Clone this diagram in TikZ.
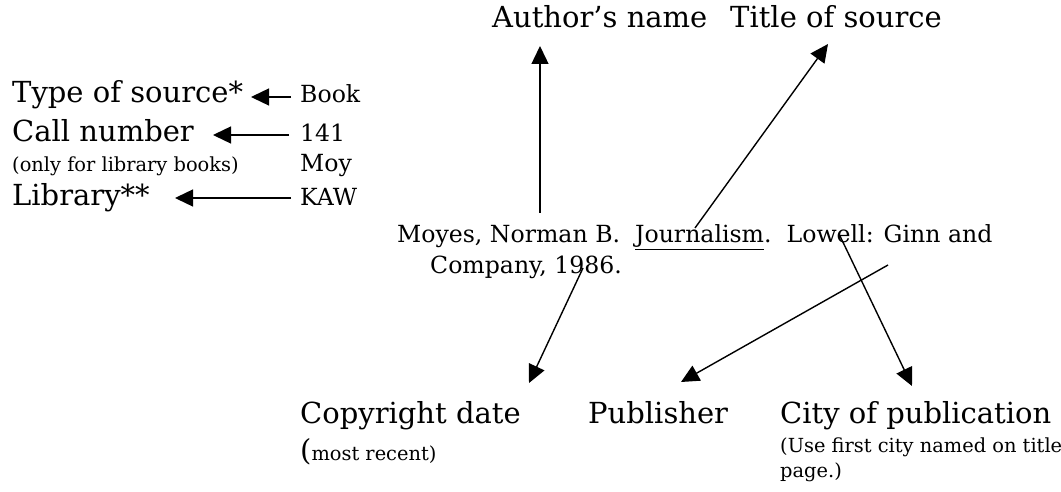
\documentclass[tikz,border=0pt]{standalone}
\usepackage{fontspec}
\setmainfont{DejaVu Serif}
\usetikzlibrary{arrows.meta}
\begin{document}
\begin{tikzpicture}[x=1pt,y=-1pt,
  big/.style={font=\fontsize{29}{34}\selectfont, inner sep=0pt, anchor=base west},
  mid/.style={font=\fontsize{23.6}{28}\selectfont, inner sep=0pt, anchor=base west},
  small/.style={font=\fontsize{19.4}{23}\selectfont, inner sep=0pt, anchor=base west},
  arr/.style={line width=1.4pt, -{Triangle[length=18pt,width=17pt]}}]
\useasboundingbox (0,0) rectangle (1061,492);
% top labels
\node[big] (author) at (492,28) {Author’s name};
\node[big] (title) at (730,28) {Title of source};
% left block
\node[big] (type) at (12,103) {Type of source*};
\node[big] (call) at (12,142) {Call number};
\node[small] (only) at (12,172) {(only for library books)};
\node[big] (lib) at (12,205) {Library**};
\node[mid] (book) at (300,103) {Book};
\node[mid] (n141) at (300,142) {141};
\node[mid] (moy) at (300,172) {Moy};
\node[mid] (kaw) at (300,205) {KAW};
\coordinate (typeT) at (251,97);
\coordinate (callT) at (213,135);
\coordinate (libT) at (175,198);
\coordinate (bookS) at (291,97);
\coordinate (n141S) at (289,135);
\coordinate (kawS) at (291,198);
\draw[arr] (bookS) -- (typeT);
\draw[arr] (n141S) -- (callT);
\draw[arr] (kawS) -- (libT);
% citation
\node[mid] (cit1) at (397,243) {Moyes, Norman B.\ \ \underline{Journalism}.\ \ Lowell: Ginn and};
\node[mid] (cit2) at (430,273) {Company, 1986.};
% bottom labels
\node[big] (copy) at (300,423) {Copyright date};
\node[small] (recent) at (300,460) {{\fontsize{29}{34}\selectfont(}most recent)};
\node[big] (pub) at (588,423) {Publisher};
\node[big] (city) at (780,423) {City of publication};
\node[small] (use) at (780,452) {(Use first city named on title};
\node[small] (page) at (780,477) {page.)};
% arrows from citation
\coordinate (authS) at (540,213);
\coordinate (authT) at (540,46);
\coordinate (titS) at (695,228);
\coordinate (titT) at (828,44);
\coordinate (dateS) at (583,268);
\coordinate (dateT) at (529,383);
\coordinate (citS) at (840,236);
\coordinate (citT) at (912,386);
\coordinate (pubS) at (888,265);
\coordinate (pubT) at (681,382);
\draw[arr] (authS) -- (authT);
\draw[arr] (titS) -- (titT);
\draw[arr] (dateS) -- (dateT);
\draw[arr] (citS) -- (citT);
\draw[arr] (pubS) -- (pubT);
\end{tikzpicture}
\end{document}
